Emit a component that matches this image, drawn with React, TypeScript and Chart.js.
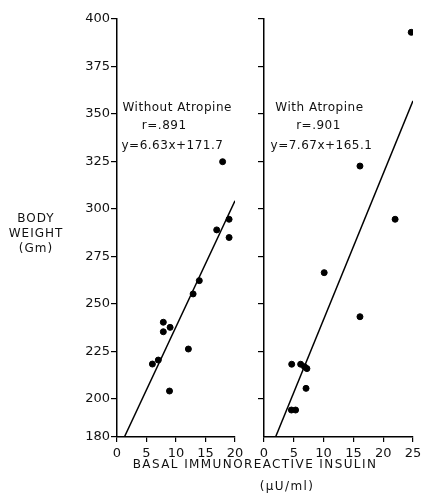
import { useEffect, useRef } from "react";
import { Chart, registerables } from "chart.js";

Chart.register(...registerables);

// ---- data ----
const leftYTicks = [180, 200, 225, 250, 275, 300, 325, 350, 375, 400];
const rightYTicks = [200, 225, 250, 275, 300, 325, 350, 375, 400];
const leftXTicks = [0, 5, 10, 15, 20];
const rightXTicks = [0, 5, 10, 15, 20, 25];

// Without Atropine
const withoutX = [6, 7, 7.85, 7.85, 9, 8.9, 12.1, 12.9, 13.95, 16.9, 17.9, 19, 19];
const withoutY = [218.4, 220.5, 240.4, 235.4, 237.7, 204.2, 226.3, 255.3, 262.3, 289, 324.9, 294.6, 285];
const withoutFitX = [1.25, 20];
const withoutFitY = [180, 304.3];

// With Atropine
const withX = [4.65, 6.15, 6.8, 7.2, 7.05, 4.6, 5.3, 10.1, 16.1, 16.1, 22.0, 24.7];
const withY = [218.3, 218.3, 217, 216, 205.6, 194.2, 194.2, 266.5, 243.3, 322.6, 294.6, 393];
const withFitX = [1.94, 25];
const withFitY = [180, 356.9];

const leftNote = ["Without Atropine", "r=.891", "y=6.63x+171.7"];
const leftNoteX = [10.2, 8.0, 9.4];
const rightNote = ["With Atropine", "r=.901", "y=7.67x+165.1"];
const rightNoteX = [9.3, 9.15, 9.65];
const noteY = [353.2, 343.7, 333.4];

const yTitle = ["BODY", "WEIGHT", "(Gm)"];
const xTitle = ["BASAL IMMUNOREACTIVE INSULIN", "(μU/ml)"];

const W = 422;
const H = 498;
const FONT = "DejaVu Sans";
const INK = "#111";

const pts = (xs: number[], ys: number[]) => xs.map((x, i) => ({ x, y: ys[i] }));

function notePlugin(lines: string[], xs: number[]) {
  return {
    id: "notes",
    afterDraw(chart: any) {
      const ctx = chart.ctx;
      ctx.save();
      ctx.fillStyle = INK;
      ctx.font = `12px "${FONT}"`;
      (ctx as any).letterSpacing = "0.5px";
      ctx.textAlign = "center";
      ctx.textBaseline = "middle";
      lines.forEach((t, i) => {
        const px = chart.scales.x.getPixelForValue(xs[i]);
        const py = chart.scales.y.getPixelForValue(noteY[i]);
        ctx.fillText(t, px, py);
      });
      ctx.restore();
    },
  };
}

const yTitlePlugin = {
  id: "ytitle",
  afterDraw(chart: any) {
    const ctx = chart.ctx;
    ctx.save();
    ctx.fillStyle = INK;
    ctx.font = `12px "${FONT}"`;
    (ctx as any).letterSpacing = "1px";
    ctx.textAlign = "center";
    ctx.textBaseline = "middle";
    const cy = chart.scales.y.getPixelForValue(287);
    yTitle.forEach((t, i) => ctx.fillText(t, 36, cy + (i - 1) * 15));
    ctx.restore();
  },
};

const xTitlePlugin = {
  id: "xtitle",
  afterDraw(chart: any) {
    const ctx = chart.ctx;
    ctx.save();
    ctx.fillStyle = INK;
    ctx.font = `12px "${FONT}"`;
    (ctx as any).letterSpacing = "1.4px";
    ctx.textAlign = "center";
    ctx.textBaseline = "middle";
    const base = chart.chartArea.bottom;
    ctx.fillText(xTitle[0], 255, base + 28);
    ctx.fillText(xTitle[1], 287, base + 50);
    ctx.restore();
  },
};

function makeConfig(opts: {
  points: { x: number; y: number }[];
  fit: { x: number; y: number }[];
  xMax: number;
  xTicks: number[];
  yTicks: number[];
  showYLabels: boolean;
  yWidth: number;
  padding: { left: number; right: number; top: number; bottom: number };
  plugins: any[];
}): any {
  const grid = {
    drawOnChartArea: false,
    drawTicks: true,
    tickLength: 6,
    color: "#000",
    lineWidth: 1.2,
  };
  return {
    type: "scatter",
    data: {
      datasets: [
        {
          data: opts.points,
          backgroundColor: "#000",
          borderColor: "#000",
          pointRadius: 3,
          pointHoverRadius: 3,
        },
        {
          type: "line",
          data: opts.fit,
          borderColor: "#000",
          borderWidth: 1.5,
          pointRadius: 0,
          fill: false,
          showLine: true,
        },
      ],
    },
    options: {
      responsive: false,
      animation: false,
      events: [],
      layout: { padding: opts.padding },
      plugins: { legend: { display: false }, tooltip: { enabled: false }, title: { display: false } },
      scales: {
        x: {
          type: "linear",
          min: 0,
          max: opts.xMax,
          afterBuildTicks: (s: any) => {
            s.ticks = opts.xTicks.map((v) => ({ value: v }));
          },
          afterFit: (s: any) => {
            s.height = 25;
            s.paddingLeft = 0;
            s.paddingRight = 0;
          },
          grid: { ...grid, tickLength: 5 },
          border: { display: true, color: "#000", width: 1.5 },
          ticks: {
            color: INK,
            font: { family: FONT, size: 13 },
            padding: 4,
            maxRotation: 0,
            autoSkip: false,
          },
        },
        y: {
          type: "linear",
          min: 180,
          max: 400,
          afterBuildTicks: (s: any) => {
            s.ticks = opts.yTicks.map((v) => ({ value: v }));
          },
          afterFit: (s: any) => {
            s.width = opts.yWidth;
            s.paddingTop = 0;
            s.paddingBottom = 0;
          },
          grid,
          border: { display: true, color: "#000", width: 1.5 },
          ticks: {
            display: opts.showYLabels,
            color: INK,
            font: { family: FONT, size: 13 },
            padding: 1,
            autoSkip: false,
          },
        },
      },
    },
    plugins: opts.plugins,
  };
}

export default function App() {
  const leftRef = useRef<HTMLCanvasElement>(null);
  const rightRef = useRef<HTMLCanvasElement>(null);

  useEffect(() => {
    const left = new Chart(
      leftRef.current!,
      makeConfig({
        points: pts(withoutX, withoutY),
        fit: pts(withoutFitX, withoutFitY),
        xMax: 20,
        xTicks: leftXTicks,
        yTicks: leftYTicks,
        showYLabels: true,
        yWidth: 117,
        padding: { left: 0, right: W - 235, top: 19, bottom: H - 437 - 25 },
        plugins: [notePlugin(leftNote, leftNoteX), yTitlePlugin],
      })
    );
    const right = new Chart(
      rightRef.current!,
      makeConfig({
        points: pts(withX, withY),
        fit: pts(withFitX, withFitY),
        xMax: 25,
        xTicks: rightXTicks,
        yTicks: rightYTicks,
        showYLabels: false,
        yWidth: 10,
        padding: { left: 254, right: W - 413, top: 19, bottom: H - 437 - 25 },
        plugins: [notePlugin(rightNote, rightNoteX), xTitlePlugin],
      })
    );
    return () => {
      left.destroy();
      right.destroy();
    };
  }, []);

  const canvasStyle: React.CSSProperties = { position: "absolute", left: 0, top: 0, width: W, height: H };
  return (
    <div style={{ position: "absolute", left: 0, top: 0, width: W, height: H, background: "#fff" }}>
      <canvas ref={leftRef} width={W} height={H} style={canvasStyle} />
      <canvas ref={rightRef} width={W} height={H} style={canvasStyle} />
    </div>
  );
}
